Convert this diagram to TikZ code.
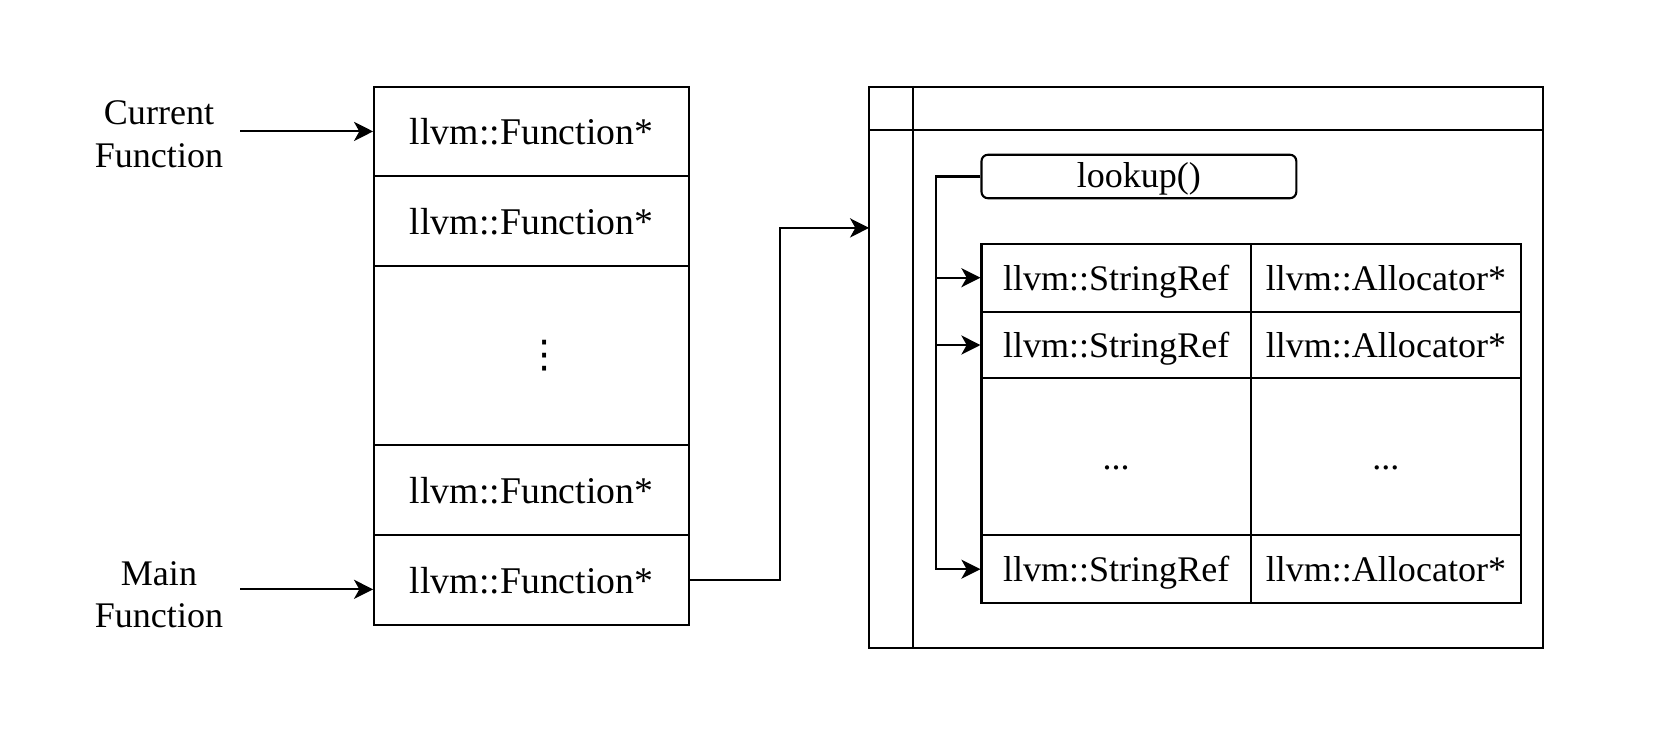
\documentclass[tikz,border=0pt]{standalone}
\usepackage{fontspec}
\setmainfont{Liberation Serif}
\newfontfamily\symfont{DejaVu Sans}
\usepackage{tikz}
\usetikzlibrary{arrows.meta,shapes}

\begin{document}
\begin{tikzpicture}[font=\fontsize{17.8bp}{20bp}\selectfont,
  cell/.style={draw,line width=1bp,inner sep=0pt,minimum width=148.5bp,text height=12.5bp,text depth=0pt},
  tcell/.style={draw,line width=1bp,inner sep=0pt,text height=12bp,text depth=0pt,font=\fontsize{17bp}{20bp}\selectfont},
  lbl/.style={align=center,inner xsep=8bp,font=\fontsize{17bp}{20bp}\selectfont},
  arr/.style={-{Stealth[length=9bp,width=9bp,inset=2.5bp]},line width=1bp}]
\useasboundingbox (0bp,0bp) rectangle (784bp,-346.25bp);

\node (F1) at (250.75bp,-62bp)[cell,minimum height=42bp] {llvm::Function*};
\node (F2) at (250.75bp,-104.25bp)[cell,minimum height=42.5bp] {llvm::Function*};
\node (F3) at (250.75bp,-167.75bp)[draw,line width=1bp,inner sep=0pt,minimum width=148.5bp,minimum height=84.5bp] {\hspace*{12bp}{\symfont\fontsize{18bp}{20bp}\selectfont ⋮}};
\node (F4) at (250.75bp,-231.25bp)[cell,minimum height=42.5bp] {llvm::Function*};
\node (F5) at (250.75bp,-273.75bp)[cell,minimum height=42.5bp] {llvm::Function*};

\node (CurF) at (75bp,-63.25bp)[lbl] {Current\\Function};
\node (MainF) at (75bp,-280.5bp)[lbl] {Main\\Function};
\draw [arr] (CurF.east |- F1.west) -- (F1.west);
\draw [arr] ([yshift=2.5bp]MainF.east) -- ([yshift=2.5bp]MainF.east -| F5.west);

\node (Map) at (569bp,-173.25bp)[draw,line width=1bp,minimum width=318bp,minimum height=264.5bp] {};
\draw [line width=1bp] ([xshift=21bp]Map.north west) -- ([xshift=21bp]Map.south west);
\draw [line width=1bp] ([yshift=-21bp]Map.north west) -- ([yshift=-21bp]Map.north east);
\coordinate (MapIn) at (410bp,-107.5bp);
\draw [arr] (F5.east) -- ++(42.5bp,0) |- (MapIn);

\node (L) at (537.25bp,-83.25bp)[tcell,text height=10.5bp,rounded corners=3bp,minimum width=148.5bp,minimum height=20.5bp] {lookup()};

\node (S1) at (526.5bp,-131bp)[tcell,minimum width=127bp,minimum height=32bp] {llvm::StringRef};
\node (A1) at (653.75bp,-131bp)[tcell,minimum width=127.5bp,minimum height=32bp] {llvm::Allocator*};
\node (S2) at (526.5bp,-162.75bp)[tcell,minimum width=127bp,minimum height=31.5bp] {llvm::StringRef};
\node (A2) at (653.75bp,-162.75bp)[tcell,minimum width=127.5bp,minimum height=31.5bp] {llvm::Allocator*};
\node (S3) at (526.5bp,-215.5bp)[tcell,minimum width=127bp,minimum height=74bp] {...};
\node (A3) at (653.75bp,-215.5bp)[tcell,minimum width=127.5bp,minimum height=74bp] {...};
\node (S4) at (526.5bp,-268.5bp)[tcell,minimum width=127bp,minimum height=32bp] {llvm::StringRef};
\node (A4) at (653.75bp,-268.5bp)[tcell,minimum width=127.5bp,minimum height=32bp] {llvm::Allocator*};

\draw [arr] (L.west) -- ++(-21bp,0) |- (S1.west);
\draw [arr] (L.west) -- ++(-21bp,0) |- (S2.west);
\draw [arr] (L.west) -- ++(-21bp,0) |- (S4.west);
\end{tikzpicture}
\end{document}
